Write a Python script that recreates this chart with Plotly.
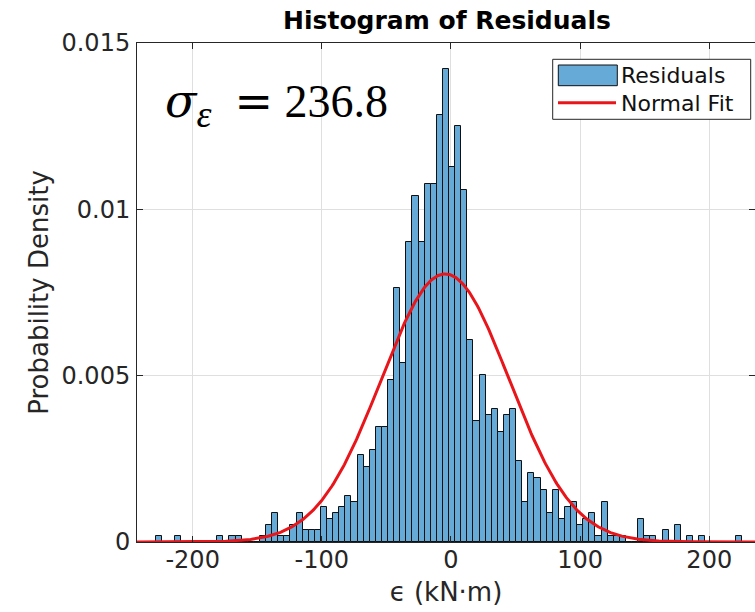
import numpy as np
import plotly.graph_objects as go

# ---------------- data ----------------
bin_start = -228.2          # left edge of first bin (kN·m)
bin_width = 4.723           # bin width (kN·m)
density = [
    0.000174, 0, 0, 0.000174, 0, 0, 0, 0, 0, 0,
    0.000174, 0, 0.000174, 0.000174, 0, 0, 0,
    0.000174, 0.000521, 0.000868, 0.000174, 0.000174, 0.000521, 0.000868,
    0.000347, 0.000347, 0.000347, 0.001041, 0.000694, 0.000868, 0.001041,
    0.001388, 0.001215, 0.002603, 0.002256, 0.002776, 0.00347, 0.00347,
    0.004858, 0.007634, 0.005379, 0.009022, 0.01041, 0.009022, 0.010757,
    0.010757, 0.012839, 0.014227, 0.011278, 0.012492, 0.010584, 0.006073,
    0.003644, 0.005032, 0.003817, 0.003991, 0.003297, 0.003817, 0.003991,
    0.002429, 0.001215, 0.002082, 0.001909, 0.001562, 0.000868, 0.001562,
    0.000694, 0.001041, 0.001215, 0.000521, 0.000694, 0.000868, 0.000174,
    0.001215, 0.000174, 0.000174, 0.000174, 0, 0, 0.000694, 0.000174,
    0.000174, 0, 0.000347, 0, 0.000521, 0, 0.000174, 0, 0.000174,
    0, 0, 0, 0, 0, 0.000174,
]
fit_mu = -4.5               # normal fit mean
fit_sigma = 49.5            # normal fit std

x_ticks = [-200, -100, 0, 100, 200]
x_tick_labels = ["-200", "-100", "0", "100", "200"]
y_ticks = [0, 0.005, 0.01, 0.015]
y_tick_labels = ["0", "0.005", "0.01", "0.015"]
x_range = [-243.1, 235.4]
y_range = [0, 0.015]

title_text = "Histogram of Residuals"
x_label = "ϵ (kN·m)"
y_label = "Probability Density"
legend_labels = ["Residuals", "Normal Fit"]
sigma_text = ('<span style="font-family:DejaVu Serif"><i>σ</i></span>'
              '<sub><i><span style="font-size:38px">ε</span></i></sub>\u2002'
              '<span style="font-family:DejaVu Serif">=</span> 236.8')

# ---------------- styling / layout ----------------
W, H = 755, 612
ML, MR, MT, MB = 137, 0, 43, 70
BAR_COLOR = "#66aad7"
LINE_COLOR = "#e8161b"
AX_COLOR = "#262626"
FONT = "DejaVu Sans"


def px2x(px):
    return (px - ML) / (W - ML - MR)


def py2y(py):
    return (H - MB - py) / (H - MT - MB)


centers = bin_start + bin_width * (np.arange(len(density)) + 0.5)
xs = np.linspace(x_range[0], x_range[1], 600)
ys = np.exp(-0.5 * ((xs - fit_mu) / fit_sigma) ** 2) / (fit_sigma * np.sqrt(2 * np.pi))

fig = go.Figure()
fig.add_trace(go.Bar(
    x=centers, y=density, width=bin_width, name=legend_labels[0],
    marker=dict(color=BAR_COLOR, line=dict(color="#111111", width=1)),
    showlegend=False,
))
fig.add_trace(go.Scatter(
    x=xs, y=ys, mode="lines", name=legend_labels[1],
    line=dict(color=LINE_COLOR, width=3), showlegend=False,
))

axis_common = dict(
    showline=True, linecolor=AX_COLOR, linewidth=1, mirror="ticks",
    ticks="inside", ticklen=6, tickcolor=AX_COLOR, automargin=False,
    showgrid=True, gridcolor="#dfdfdf", gridwidth=1, zeroline=False,
    tickfont=dict(family=FONT, size=24, color=AX_COLOR),
)

fig.update_layout(
    width=W, height=H,
    margin=dict(l=ML, r=MR, t=MT, b=MB, pad=0, autoexpand=False),
    paper_bgcolor="white", plot_bgcolor="white",
    bargap=0,
    title=dict(text="<b>" + title_text + "</b>", x=px2x(447), xref="paper",
               xanchor="center", y=1 - 20 / H, yref="container", yanchor="middle",
               font=dict(family=FONT, size=25, color="black")),
    xaxis=dict(range=x_range, tickvals=x_ticks, ticktext=x_tick_labels,
               ticklabelstandoff=-4,
               title=dict(text=x_label, standoff=10,
                          font=dict(family=FONT, size=26, color=AX_COLOR)),
               **axis_common),
    yaxis=dict(range=y_range, tickvals=y_ticks, ticktext=y_tick_labels,
               ticklabelstandoff=1,
               title=dict(text=y_label, standoff=5,
                          font=dict(family=FONT, size=26, color=AX_COLOR)),
               **axis_common),
)

# sigma annotation
fig.add_annotation(
    text=sigma_text, xref="paper", yref="paper",
    x=px2x(163), y=py2y(104), xanchor="left", yanchor="middle",
    showarrow=False, font=dict(family="Liberation Serif", size=46, color="black"),
)

# custom legend (MATLAB style)
fig.add_shape(type="rect", xref="paper", yref="paper", layer="above",
              x0=px2x(552.7), x1=px2x(750.7), y0=py2y(119.3), y1=py2y(59.3),
              line=dict(color=AX_COLOR, width=1), fillcolor="white")
fig.add_shape(type="rect", xref="paper", yref="paper", layer="above",
              x0=px2x(558.3), x1=px2x(617.3), y0=py2y(85.7), y1=py2y(65),
              line=dict(color="#111111", width=1), fillcolor=BAR_COLOR)
fig.add_shape(type="line", xref="paper", yref="paper", layer="above",
              x0=px2x(558), x1=px2x(616), y0=py2y(102.7), y1=py2y(102.7),
              line=dict(color=LINE_COLOR, width=3))
for label, py in zip(legend_labels, [75.5, 103.3]):
    fig.add_annotation(text=label, xref="paper", yref="paper",
                       x=px2x(619), y=py2y(py), xanchor="left", yanchor="middle",
                       showarrow=False,
                       font=dict(family=FONT, size=22, color="#111111"))

# remove the browser's default 8px page margin so the figure fills the window
fig.write_html("out.html",
               config={"displayModeBar": False},
               post_script="document.body.style.margin='0';"
                           "document.body.style.overflow='hidden';")
